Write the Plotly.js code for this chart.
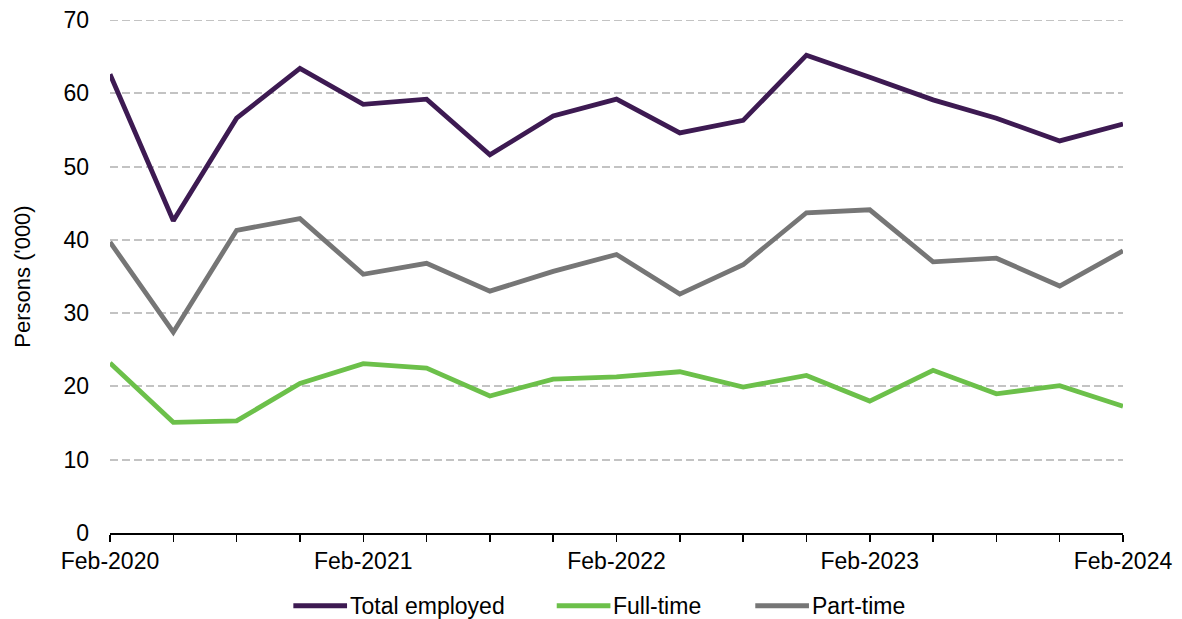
<!DOCTYPE html>
<html>
<head>
<meta charset="utf-8">
<script src="https://cdn.plot.ly/plotly-3.0.1.min.js"></script>
<style>
  html, body { margin: 0; padding: 0; background: #fff; }
  #chart { width: 1182px; height: 619px; }
</style>
</head>
<body>
<div id="chart"></div>
<script>
// Quarterly periods, Feb-2020 to Feb-2024
const periods = [
  "Feb-2020", "May-2020", "Aug-2020", "Nov-2020",
  "Feb-2021", "May-2021", "Aug-2021", "Nov-2021",
  "Feb-2022", "May-2022", "Aug-2022", "Nov-2022",
  "Feb-2023", "May-2023", "Aug-2023", "Nov-2023",
  "Feb-2024"
];
const tickLabels = [
  "Feb-2020", "", "", "",
  "Feb-2021", "", "", "",
  "Feb-2022", "", "", "",
  "Feb-2023", "", "", "",
  "Feb-2024"
];
const yTicks = [0, 10, 20, 30, 40, 50, 60, 70];
const yMax = 70;

// Persons ('000)
const totalEmployed = [62.6, 42.6, 56.6, 63.4, 58.5, 59.2, 51.6, 56.9, 59.2, 54.6, 56.3, 65.2, 62.2, 59.1, 56.6, 53.5, 55.8];
const fullTime      = [23.2, 15.1, 15.3, 20.4, 23.1, 22.5, 18.7, 21.0, 21.3, 22.0, 19.9, 21.5, 18.0, 22.2, 19.0, 20.1, 17.3];
const partTime      = [39.7, 27.4, 41.3, 42.9, 35.3, 36.8, 33.0, 35.7, 38.0, 32.6, 36.6, 43.7, 44.1, 37.0, 37.5, 33.7, 38.5];

const seriesNames  = ["Total employed", "Full-time", "Part-time"];
const seriesColors = ["#3d1a52", "#6cc04a", "#767676"];
const seriesValues = [totalEmployed, fullTime, partTime];

const idx = periods.map((_, i) => i);
const FONT = "Liberation Sans, Arial, sans-serif";
const FS = 23;
const GRID_COLOR = "#c3c3c3";

const traces = seriesValues.map((vals, k) => ({
  type: "scatter",
  mode: "lines",
  name: seriesNames[k],
  x: idx,
  y: vals,
  text: periods,
  hovertemplate: "%{text}: %{y}<extra>" + seriesNames[k] + "</extra>",
  line: { color: seriesColors[k], width: 4.8, shape: "linear" },
  showlegend: false,
  cliponaxis: false
}));

// Top gridline sits on the plot edge, so draw it as a layer-below shape
const shapes = [{
  type: "line", xref: "paper", yref: "y", layer: "below",
  x0: 0, x1: 1, y0: yMax, y1: yMax,
  line: { color: GRID_COLOR, width: 2, dash: "8px,4px" }
}];

// Legend drawn below the axis: a short line swatch followed by the label
const legendX = [0.181, 0.441, 0.637];   // paper x where each swatch starts
const swatchLen = 0.053;
const legendY = -0.142;
const annotations = [];
seriesNames.forEach((name, k) => {
  shapes.push({
    type: "line", xref: "paper", yref: "paper",
    x0: legendX[k], x1: legendX[k] + swatchLen, y0: legendY, y1: legendY,
    line: { color: seriesColors[k], width: 5 }
  });
  annotations.push({
    xref: "paper", yref: "paper",
    x: legendX[k] + swatchLen + 0.001, y: legendY,
    xanchor: "left", yanchor: "middle",
    text: name, showarrow: false,
    font: { family: FONT, size: FS, color: "#000" }
  });
});

const layout = {
  width: 1182,
  height: 619,
  margin: { l: 110, r: 59, t: 20, b: 86 },
  paper_bgcolor: "#fff",
  plot_bgcolor: "#fff",
  font: { family: FONT, size: FS, color: "#000" },
  showlegend: false,
  xaxis: {
    range: [0, 16],
    tickmode: "array",
    tickvals: idx,
    ticktext: tickLabels,
    ticks: "outside",
    ticklen: 7,
    tickwidth: 1.5,
    tickcolor: "#000",
    showline: true,
    linecolor: "#000",
    linewidth: 1.5,
    showgrid: false,
    zeroline: false,
    tickangle: 0,
    tickfont: { family: FONT, size: FS, color: "#000" }
  },
  yaxis: {
    range: [0, yMax],
    tickmode: "array",
    tickvals: yTicks,
    ticks: "",
    showline: false,
    showgrid: true,
    gridcolor: GRID_COLOR,
    gridwidth: 2,
    griddash: "8px,4px",
    zeroline: false,
    ticklabelstandoff: 20,
    tickfont: { family: FONT, size: FS, color: "#000" },
    title: { text: "Persons ('000)", font: { family: FONT, size: 22, color: "#000" }, standoff: 26 }
  },
  shapes: shapes,
  annotations: annotations
};

Plotly.newPlot("chart", traces, layout, { displayModeBar: false, staticPlot: true });
</script>
</body>
</html>
